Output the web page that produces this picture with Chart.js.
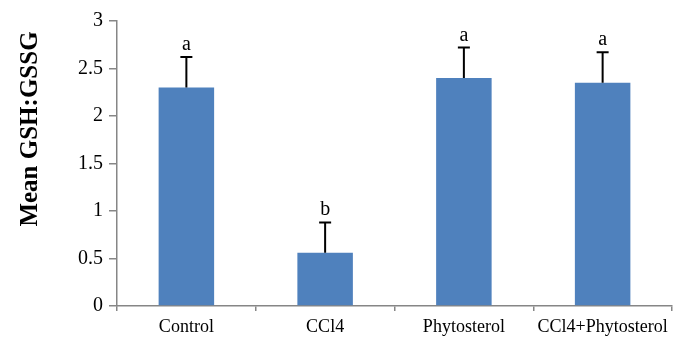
<!DOCTYPE html>
<html>
<head>
<meta charset="utf-8">
<script src="https://cdn.jsdelivr.net/npm/chart.js@4"></script>
<style>
html,body{margin:0;padding:0;background:#fff;}
canvas{display:block;}
</style>
</head>
<body>
<canvas id="c" width="675" height="337"></canvas>
<script>
const categories = ["Control", "CCl4", "Phytosterol", "CCl4+Phytosterol"];
const means = [2.30, 0.56, 2.40, 2.35];
const errors = [0.32, 0.32, 0.32, 0.32];
const letters = ["a", "b", "a", "a"];
const yTicks = [0, 0.5, 1, 1.5, 2, 2.5, 3];
const yTitle = "Mean GSH:GSSG";

const SERIF = "'Liberation Serif', 'Times New Roman', serif";
const AXIS = "#868686";
Chart.defaults.font.family = SERIF;
Chart.defaults.color = "#000";

const errorBarPlugin = {
  id: "errorBars",
  afterDatasetsDraw(chart) {
    const ctx = chart.ctx;
    const yScale = chart.scales.y;
    const meta = chart.getDatasetMeta(0);
    ctx.save();
    meta.data.forEach((bar, i) => {
      const x = bar.x;
      const yTop = yScale.getPixelForValue(means[i] + errors[i]);
      const yBase = bar.y;
      ctx.strokeStyle = "#000";
      ctx.lineWidth = 2;
      ctx.beginPath();
      ctx.moveTo(x, yBase);
      ctx.lineTo(x, yTop);
      ctx.moveTo(x - 6, yTop);
      ctx.lineTo(x + 6, yTop);
      ctx.stroke();
      ctx.fillStyle = "#000";
      ctx.font = "20px " + SERIF;
      ctx.textAlign = "center";
      ctx.textBaseline = "alphabetic";
      ctx.fillText(letters[i], x, yTop - 7);
    });
    ctx.restore();
  }
};

const titlePlugin = {
  id: "yTitle",
  afterDraw(chart) {
    const ctx = chart.ctx;
    ctx.save();
    ctx.translate(31, 129);
    ctx.rotate(-Math.PI / 2);
    ctx.fillStyle = "#000";
    ctx.font = "bold 25px " + SERIF;
    ctx.textAlign = "center";
    ctx.textBaseline = "middle";
    ctx.fillText(yTitle, 0, 0);
    ctx.restore();
  }
};

new Chart(document.getElementById("c"), {
  type: "bar",
  data: {
    labels: categories,
    datasets: [{
      data: means,
      backgroundColor: "#4F81BD",
      borderWidth: 0,
      barPercentage: 0.4,
      categoryPercentage: 1.0
    }]
  },
  options: {
    responsive: false,
    animation: false,
    devicePixelRatio: 1,
    layout: { padding: { top: 21, right: 3, left: 0, bottom: 0 } },
    plugins: { legend: { display: false }, tooltip: { enabled: false } },
    scales: {
      x: {
        offset: true,
        grid: { display: true, offset: true, drawOnChartArea: false, tickLength: 5, color: AXIS, lineWidth: 1.5 },
        border: { display: true, color: AXIS, width: 1.5 },
        ticks: { color: "#000", font: { family: SERIF, size: 18 }, padding: 5, maxRotation: 0, autoSkip: false },
        afterFit(s) { s.height = 31; }
      },
      y: {
        min: 0,
        max: 3,
        afterBuildTicks(s) { s.ticks = yTicks.map(v => ({ value: v })); },
        grid: { display: true, drawOnChartArea: false, tickLength: 8, color: AXIS, lineWidth: 1.5 },
        border: { display: true, color: AXIS, width: 1.5 },
        ticks: { color: "#000", font: { family: SERIF, size: 20 }, padding: 6, callback: v => String(v) },
        afterFit(s) { s.width = 117; }
      }
    }
  },
  plugins: [errorBarPlugin, titlePlugin]
});
</script>
</body>
</html>
